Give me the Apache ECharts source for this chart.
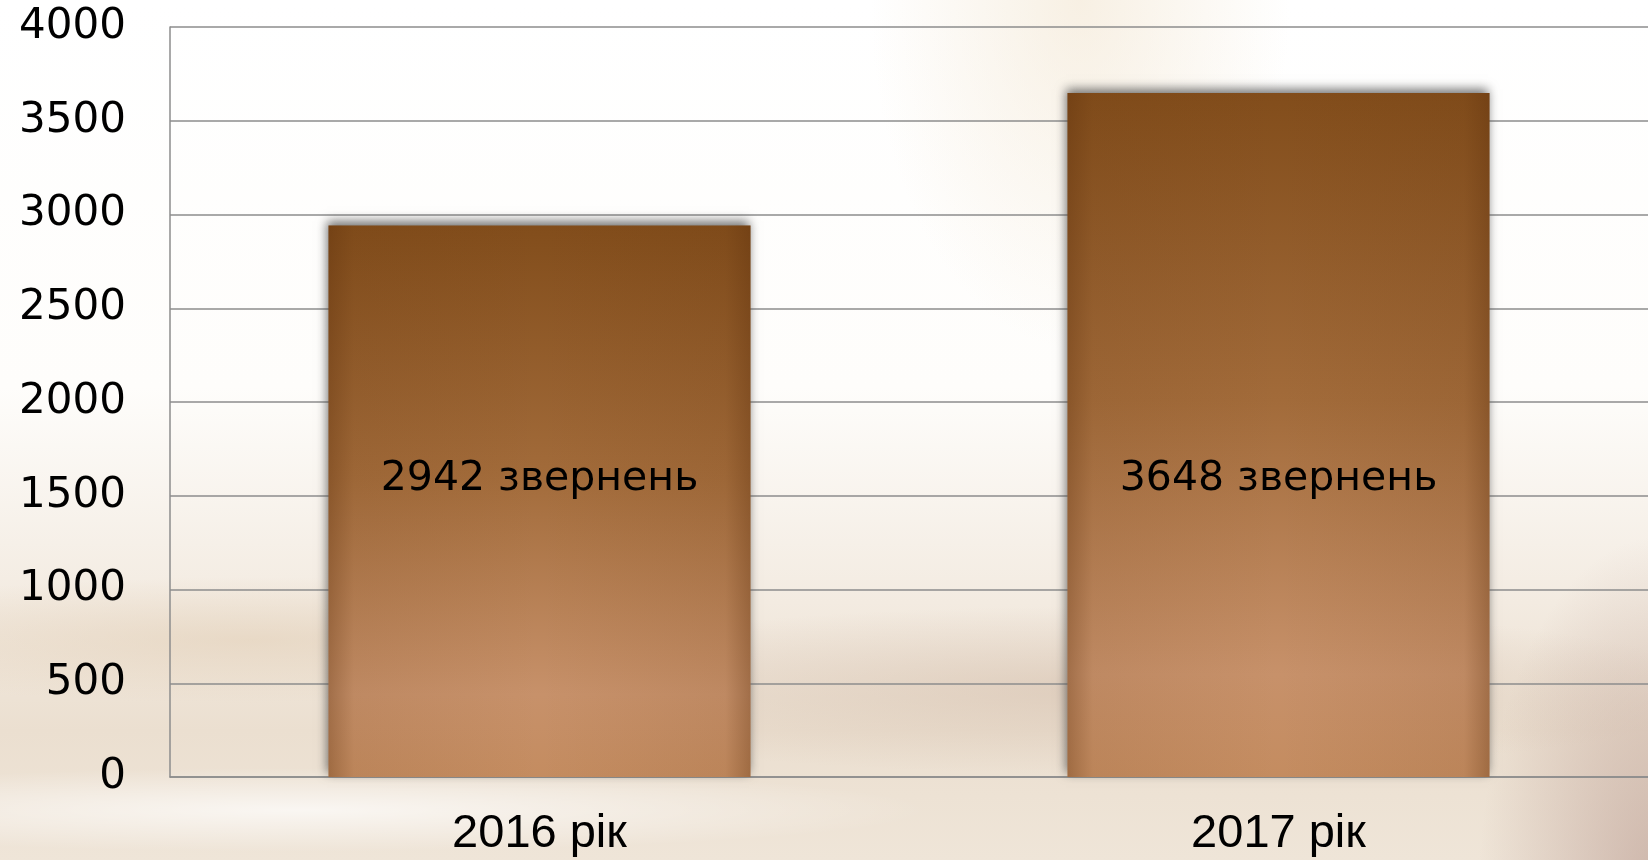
<!DOCTYPE html>
<html>
<head>
<meta charset="utf-8">
<script src="https://cdn.jsdelivr.net/npm/echarts@6/dist/echarts.min.js"></script>
<style>
  html, body { margin: 0; padding: 0; }
  body {
    width: 1648px; height: 860px; overflow: hidden;
    /* soft cream swirl backdrop of the original slide */
    background:
      radial-gradient(ellipse 260px 520px at 1660px 900px, rgba(175,140,130,0.55), rgba(175,140,130,0) 70%),
      radial-gradient(ellipse 900px 120px at 1100px 690px, rgba(205,180,160,0.45), rgba(205,180,160,0) 70%),
      radial-gradient(ellipse 700px 90px at 250px 640px, rgba(225,205,180,0.55), rgba(225,205,180,0) 70%),
      radial-gradient(ellipse 900px 60px at 300px 810px, rgba(255,255,255,0.7), rgba(255,255,255,0) 70%),
      radial-gradient(ellipse 300px 500px at 1080px 0px, rgba(240,225,200,0.5), rgba(240,225,200,0) 70%),
      linear-gradient(to bottom, #ffffff 0%, #fefdfb 45%, #f3ebe1 70%, #ebdfd0 85%, #efe5d8 100%);
  }
  #chart { width: 1648px; height: 860px; }
</style>
</head>
<body>
<div id="chart"></div>
<script>
  var years = ['2016 рік', '2017 рік'];
  var requests = [2942, 3648];
  var yTicks = { min: 0, max: 4000, interval: 500 };
  var unit = 'звернень';

  var gridColor = '#8c8c8c';

  var chart = echarts.init(document.getElementById('chart'), null, { renderer: 'canvas' });

  var body = {
    type: 'linear', x: 0, y: 0, x2: 0, y2: 1,
    colorStops: [
      { offset: 0, color: '#824d1b' },
      { offset: 0.45, color: '#a26b3a' },
      { offset: 0.85, color: '#c7916a' },
      { offset: 1, color: '#c48c60' }
    ]
  };
  // darker left/right rim, drawn as an overlay on the same bars
  var rim = {
    type: 'linear', x: 0, y: 0, x2: 1, y2: 0,
    colorStops: [
      { offset: 0, color: 'rgba(90,45,10,0.35)' },
      { offset: 0.06, color: 'rgba(90,45,10,0.08)' },
      { offset: 0.5, color: 'rgba(90,45,10,0)' },
      { offset: 0.94, color: 'rgba(90,45,10,0.08)' },
      { offset: 1, color: 'rgba(90,45,10,0.35)' }
    ]
  };

  chart.setOption({
    animation: false,
    grid: { left: 170, right: 0, top: 27, bottom: 83 },
    xAxis: {
      type: 'category',
      data: years,
      axisLine: { show: true, lineStyle: { color: gridColor, width: 1.5 } },
      axisTick: { show: false },
      axisLabel: {
        margin: 34,
        color: '#000',
        fontFamily: 'Liberation Sans, Arial, sans-serif',
        fontSize: 47,
        lineHeight: 47
      }
    },
    yAxis: {
      type: 'value',
      min: yTicks.min,
      max: yTicks.max,
      interval: yTicks.interval,
      axisLine: { show: true, lineStyle: { color: gridColor, width: 1.5 } },
      axisTick: { show: false },
      splitLine: { lineStyle: { color: gridColor, width: 1.5 } },
      axisLabel: {
        margin: 44,
        color: '#000',
        fontFamily: 'DejaVu Sans, sans-serif',
        fontSize: 42,
        formatter: function (v) { return String(v); }
      }
    },
    series: [
      {
        type: 'bar',
        data: requests,
        barWidth: 422,
        itemStyle: {
          color: body,
          shadowColor: 'rgba(70,70,70,0.75)',
          shadowBlur: 10,
          shadowOffsetY: -4,
          shadowOffsetX: -2
        },
        z: 2
      },
      {
        type: 'bar',
        data: requests,
        barWidth: 422,
        barGap: '-100%',
        itemStyle: { color: rim },
        label: {
          show: true,
          position: 'insideBottom',
          distance: 277,
          formatter: function (p) { return p.value + ' ' + unit; },
          color: '#000',
          fontFamily: 'DejaVu Sans, sans-serif',
          fontSize: 41
        },
        z: 3
      }
    ]
  });
</script>
</body>
</html>
